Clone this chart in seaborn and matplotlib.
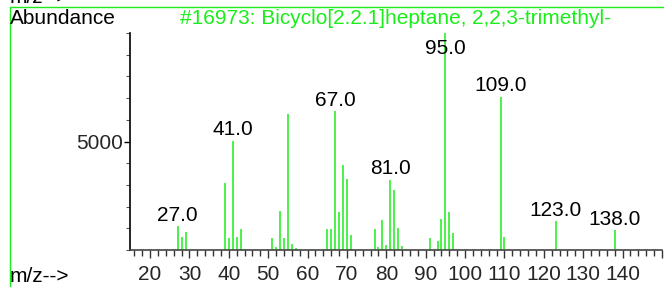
import matplotlib
matplotlib.use("Agg")
import matplotlib.pyplot as plt
from matplotlib.lines import Line2D
from matplotlib.ticker import MultipleLocator, FixedLocator, NullFormatter
import seaborn as sns
import pandas as pd

# Mass spectrum peaks (m/z, abundance)
mz = [27, 28, 29, 39, 40, 41, 42, 43, 44, 50, 51, 52, 53, 54, 55, 56, 57,
      65, 66, 67, 68, 69, 70, 71, 77, 78, 79, 80, 81, 82, 83, 84,
      91, 93, 94, 95, 96, 97, 109, 110, 123, 138]
abundance = [1100, 590, 840, 3100, 540, 5030, 590, 980, 40, 30, 550, 160, 1810, 570, 6280, 280, 90,
             950, 960, 6390, 1750, 3920, 3260, 670, 970, 140, 1380, 230, 3240, 2760, 1000, 180,
             570, 410, 1410, 9990, 1740, 780, 7060, 600, 1320, 920]
labeled_peaks = [27, 41, 67, 81, 95, 109, 123, 138]

title = "#16973: Bicyclo[2.2.1]heptane, 2,2,3-trimethyl-"
green = "#1aee1a"
fs = 15

df = pd.DataFrame({"mz": mz, "abundance": abundance})

sns.set_theme(style="white")
plt.rcParams["font.family"] = ["Liberation Sans", "DejaVu Sans"]
plt.rcParams["font.size"] = fs

fig = plt.figure(figsize=(6.64, 2.87), dpi=100)
ax = fig.add_axes([130 / 664, 1 - 250 / 287, 532 / 664, 217 / 287])

ax.vlines(df["mz"], 0, df["abundance"], color=green, linewidth=1.1)

# peak labels, kept inside the frame
for m in labeled_peaks:
    a = df.loc[df["mz"] == m, "abundance"].iloc[0]
    ax.annotate(f"{m:.1f}", xy=(m, min(a, 8800)), xytext=(0, 1),
                textcoords="offset points", ha="center", va="bottom",
                fontsize=fs, color="black")

ax.set_xlim(14.9, 150)
ax.set_ylim(0, 10000)

ax.xaxis.set_major_locator(MultipleLocator(10))
ax.xaxis.set_minor_locator(MultipleLocator(2))
ax.xaxis.set_major_formatter(lambda v, p: f"{v:.0f}" if 20 <= v <= 140 else "")
ax.yaxis.set_major_locator(FixedLocator([5000]))
ax.yaxis.set_minor_locator(MultipleLocator(1000))
ax.yaxis.set_minor_formatter(NullFormatter())

ax.tick_params(axis="x", which="major", bottom=True, length=6, width=1, color="#333333",
               labelsize=fs, pad=5, direction="out")
ax.tick_params(axis="x", which="minor", bottom=True, length=4, width=1, color="#333333")
ax.tick_params(axis="y", which="major", left=True, length=4, width=1, color="black",
               labelsize=fs, pad=1)
ax.tick_params(axis="y", which="minor", left=True, length=3, width=0.8, color="#555555")

sns.despine(ax=ax, top=True, right=True)
ax.spines["left"].set_color("black")
ax.spines["left"].set_linewidth(1.2)
ax.spines["bottom"].set_color("#444444")
ax.spines["bottom"].set_linewidth(1.2)
ax.set_facecolor("white")

# green frame
x0 = 10 / 664
y0 = 1 - 6.7 / 287
fig.add_artist(Line2D([x0, x0], [0, y0], color=green, linewidth=1, transform=fig.transFigure))
fig.add_artist(Line2D([x0, 1], [y0, y0], color=green, linewidth=1, transform=fig.transFigure))

fig.text(x0, 1 - 3 / 287, "m/z-->", ha="left", va="baseline", fontsize=fs, color="black")
fig.text(x0, 1 - 18 / 287, "Abundance", ha="left", va="center", fontsize=fs, color="black")
fig.text(396 / 664, 1 - 18 / 287, title, ha="center", va="center", fontsize=fs, color=green)
fig.text(x0, 1 - 276 / 287, "m/z-->", ha="left", va="center", fontsize=fs, color="black")

fig.savefig("out.png", dpi=100)
